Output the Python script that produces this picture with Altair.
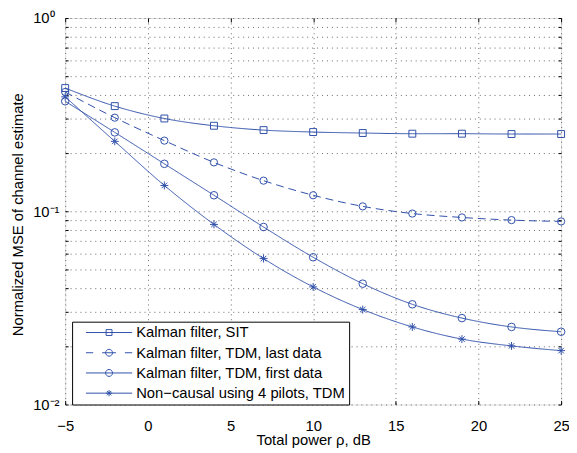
import altair as alt
import pandas as pd

# ---------------- data ----------------
power_db = [-5, -2, 1, 4, 7, 10, 13, 16, 19, 22, 25]
series_names = [
    "Kalman filter, SIT",
    "Kalman filter, TDM, last data",
    "Kalman filter, TDM, first data",
    "Non\u2212causal using 4 pilots, TDM",
]
mse_sit = [0.434, 0.350, 0.302, 0.277, 0.263, 0.257, 0.254, 0.252, 0.252, 0.251, 0.251]
mse_last = [0.414, 0.305, 0.232, 0.179, 0.144, 0.121, 0.106, 0.0973, 0.0929, 0.0900, 0.0886]
mse_first = [0.371, 0.256, 0.176, 0.121, 0.0829, 0.0578, 0.0422, 0.0330, 0.0280, 0.0252, 0.0238]
mse_noncausal = [0.391, 0.230, 0.136, 0.0855, 0.0569, 0.0406, 0.0310, 0.0252, 0.0218, 0.0201, 0.0190]

x_ticks = [-5, 0, 5, 10, 15, 20, 25]
y_ticks = [round(k * 0.01, 3) for k in range(1, 10)] + [round(k * 0.1, 2) for k in range(1, 10)] + [1.0]

rows = []
for name, vals in zip(series_names, [mse_sit, mse_last, mse_first, mse_noncausal]):
    for p, v in zip(power_db, vals):
        rows.append({"power": p, "mse": v, "series": name})
df = pd.DataFrame(rows)

BLUE = "#3050aa"
FONT = "Liberation Sans"
GRID = "#666"

SQUARE = "M-1,-1H1V1H-1Z"
CIRCLE_P = "M1,0A1,1 0 1,1 -1,0A1,1 0 1,1 1,0Z"
STAR = "M-1,0H1M0,-1V1M-0.7,-0.7L0.7,0.7M-0.7,0.7L0.7,-0.7"

LEG_SIT = "M-6.7,0H6.7M-0.85,-0.85H0.85V0.85H-0.85Z"
LEG_LAST = "M-6.7,0H-4.6M-2,0H2M4.6,0H6.7" + CIRCLE_P
LEG_FIRST = "M-6.7,0H6.7" + CIRCLE_P
LEG_STAR = "M-6.7,0H6.7M-0.9,0H0.9M0,-0.9V0.9M-0.63,-0.63L0.63,0.63M-0.63,0.63L0.63,-0.63"

x_scale = alt.Scale(domain=[-5, 25], nice=False, zero=False)
y_scale = alt.Scale(type="log", domain=[0.01, 1], nice=False)

label_expr = ("datum.value == 1 ? '10\u2070' : (abs(datum.value - 0.1) < 1e-9 ? '10\u207b\u00b9' : "
              "(abs(datum.value - 0.01) < 1e-9 ? '10\u207b\u00b2' : ''))")

base = alt.Chart(df)

lines = base.mark_line(color=BLUE, strokeWidth=1, interpolate="monotone").encode(
    x=alt.X("power:Q", scale=x_scale, axis=alt.Axis(
        orient="bottom", values=x_ticks, grid=True, gridDash=[1, 4], gridColor=GRID,
        ticks=False, domain=False, labelPadding=26, labelBaseline="alphabetic",
        labelFont=FONT, labelFontSize=15, labelColor="black", labelFlush=False,
        title="Total power \u03c1, dB", titleX=251.5, titleY=40.7, titleBaseline="alphabetic",
        titleFont=FONT, titleFontSize=15, titleFontWeight="normal", titleColor="black")),
    y=alt.Y("mse:Q", scale=y_scale, axis=alt.Axis(
        orient="left", values=y_ticks, grid=True, gridDash=[1, 4], gridColor=GRID,
        ticks=False, domain=False, labelExpr=label_expr, labelAlign="left", labelPadding=33,
        labelBaseline="middle", labelOverlap=False, labelFont=FONT, labelFontSize=15,
        labelColor="black", labelFlush=False,
        title="Normalized MSE of channel estimate", titleX=-48, titleY=199, titleAngle=270,
        titleBaseline="middle", titleAlign="center",
        titleFont=FONT, titleFontSize=15, titleFontWeight="normal", titleColor="black")),
    detail="series:N",
    strokeDash=alt.StrokeDash("series:N", scale=alt.Scale(
        domain=series_names, range=[[1, 0], [8, 5], [1, 0], [1, 0]]), legend=None),
)

points = base.mark_point(filled=False, color=BLUE, strokeWidth=1, opacity=1).encode(
    x=alt.X("power:Q", scale=x_scale, axis=alt.Axis(
        orient="top", values=x_ticks, offset=-4, tickSize=4, tickColor="black",
        labels=False, domain=False, grid=False, title=None)),
    y=alt.Y("mse:Q", scale=y_scale, axis=alt.Axis(
        orient="right", values=y_ticks, offset=-3, tickSize=3, tickColor="black",
        labels=False, domain=False, grid=False, title=None)),
    shape=alt.Shape("series:N", scale=alt.Scale(
        domain=series_names, range=[SQUARE, "circle", "circle", STAR]), legend=None),
    size=alt.Size("series:N", scale=alt.Scale(
        domain=series_names, range=[49, 64, 64, 49]), legend=None),
)

legend_layer = base.transform_filter("false").mark_point(
    filled=False, color=BLUE, strokeWidth=1, size=49, opacity=1).encode(
    x=alt.X("power:Q", scale=x_scale, axis=alt.Axis(
        orient="bottom", values=x_ticks, offset=-4, tickSize=4, tickColor="black",
        labels=False, domain=False, grid=False, title=None)),
    y=alt.Y("mse:Q", scale=y_scale, axis=alt.Axis(
        orient="left", values=y_ticks, offset=-3, tickSize=3, tickColor="black",
        labels=False, domain=False, grid=False, title=None)),
    shape=alt.Shape("series:N", scale=alt.Scale(
        domain=series_names, range=[LEG_SIT, LEG_LAST, LEG_FIRST, LEG_STAR]),
        legend=alt.Legend(
            title=None, orient="none", legendX=7, legendY=308, direction="vertical",
            strokeColor="black", fillColor="white", padding=3.5, rowPadding=4.5,
            symbolSize=49, symbolOffset=26.5, labelOffset=20, symbolStrokeWidth=1,
            symbolStrokeColor=BLUE, symbolFillColor="transparent",
            labelFont=FONT, labelFontSize=15, labelColor="black", labelLimit=0,
            cornerRadius=0)),
)

chart = alt.layer(lines, points, legend_layer).resolve_scale(
    shape="independent"
).resolve_axis(
    x="independent", y="independent"
).resolve_legend(
    shape="independent"
).properties(
    width=503, height=392,
    autosize=alt.AutoSizeParams(type="none"),
    padding={"left": 58, "top": 7, "right": 8, "bottom": 44},
).configure_view(
    stroke="black", strokeWidth=1
).configure(background="white")

chart.save("out.html", embed_options={"renderer": "svg", "actions": False})
